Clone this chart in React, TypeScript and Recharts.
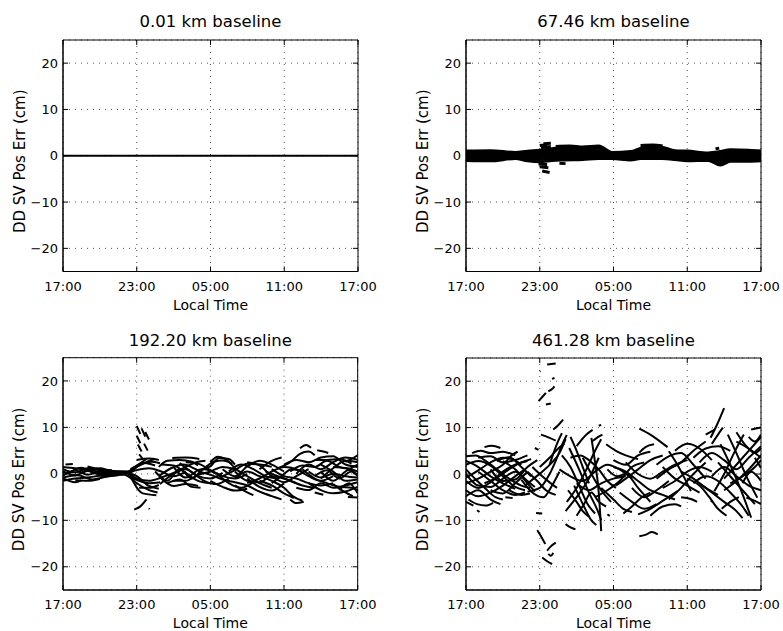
import React from 'react';
import { CartesianGrid, Line, LineChart, ReferenceArea, XAxis, YAxis } from 'recharts';

// hours after 17:00 local time
const timeTicks = [0, 6, 12, 18, 24];
const timeLabels = ['17:00', '23:00', '05:00', '11:00', '17:00'];
const errTicks = [-20, -10, 0, 10, 20];
const titles = ['0.01 km baseline', '67.46 km baseline', '192.20 km baseline', '461.28 km baseline'];

// each track: [hour, error cm] pairs
const tracks001 = [[[0, 0], [24, 0]]];

const tracks067 = [
  [[0, 1.0], [2, 1.1], [4, 0.7], [5, 1.0], [6, 1.2], [7, 1.5], [8, 1.9], [9.5, 1.9], [10.8, 2.1], [11.9, 0.7], [13.4, 0.9], [14.2, 1.6], [15, 2.0], [16, 1.8], [17, 1.1], [18, 1.0], [19.7, 0.6], [20.7, 0.9], [21.5, 1.3], [23, 1.2], [24, 1.0]],
  [[0, 0.7], [2, 0.6], [4, 0.4], [5, 0.6], [6, 0.8], [7, 1.1], [8, 1.4], [9.5, 1.4], [10.8, 1.6], [11.9, 0.4], [13.4, 0.5], [14.2, 1.1], [15, 1.4], [16, 1.3], [17, 0.8], [18, 0.6], [19.7, 0.3], [20.7, 0.4], [21.5, 0.9], [23, 0.8], [24, 0.6]],
  [[0, 0.3], [2, 0.2], [4, 0.2], [5, 0.2], [6, 0.4], [7, 0.6], [8, 0.9], [9.5, 1.0], [10.8, 1.0], [11.9, 0.1], [13.4, 0.2], [14.2, 0.6], [15, 0.9], [16, 0.8], [17, 0.4], [18, 0.2], [19.7, 0], [20.7, -0.1], [21.5, 0.5], [23, 0.4], [24, 0.2]],
  [[0, -0.1], [2, -0.2], [4, 0], [5, -0.2], [6, 0], [7, 0.2], [8, 0.5], [9.5, 0.5], [10.8, 0.6], [11.9, -0.1], [13.4, -0.1], [14.2, 0.2], [15, 0.5], [16, 0.4], [17, 0], [18, -0.2], [19.7, -0.3], [20.7, -0.6], [21.5, 0], [23, 0], [24, -0.2]],
  [[0, -0.4], [2, -0.5], [4, -0.2], [5, -0.5], [6, -0.4], [7, -0.2], [8, 0.1], [9.5, 0.1], [10.8, 0.2], [11.9, -0.3], [13.4, -0.4], [14.2, -0.1], [15, 0.1], [16, 0.1], [17, -0.3], [18, -0.5], [19.7, -0.6], [20.7, -1.1], [21.5, -0.4], [23, -0.4], [24, -0.5]],
  [[0, -0.7], [2, -0.8], [4, -0.4], [5, -0.8], [6, -0.9], [7, -0.6], [8, -0.4], [9.5, -0.4], [10.8, -0.2], [11.9, -0.5], [13.4, -0.7], [14.2, -0.4], [15, -0.3], [16, -0.3], [17, -0.6], [18, -0.8], [19.7, -0.8], [20.7, -1.6], [21.5, -0.8], [23, -0.8], [24, -0.8]],
  [[0, -1.0], [2, -1.1], [4, -0.6], [5, -1.1], [6, -1.3], [7, -1.0], [8, -0.9], [9.5, -0.8], [10.8, -0.6], [11.9, -0.6], [13.4, -0.9], [14.2, -0.6], [16, -0.6], [17, -0.8], [18, -1.1], [19.7, -1.0], [20.7, -2.0], [21.5, -1.2], [23, -1.2], [24, -1.1]],
  [[6.0, 2.2], [6.6, 2.4]],
  [[6.1, 1.8], [6.9, 2.0]],
  [[6.3, 2.6], [6.9, 2.7]],
  [[5.9, -1.8], [6.6, -1.9]],
  [[6.0, -2.4], [6.7, -2.6]],
  [[6.2, -3.3], [6.8, -3.6]],
  [[7.6, -1.6], [8.1, -1.7]],
  [[7.3, 2.0], [8.4, 2.1], [9.2, 1.9]],
  [[14.2, 2.2], [15.2, 2.3], [16.0, 2.1]],
  [[20.3, 1.5], [20.6, 1.6]],
];

const tracks192 = [
  [[0, 1.5], [1, 1.2], [2, 0.8], [3, 0.5], [4, 0.3], [5, 0.2], [6, 1.5], [7, 2.8], [7.5, 3.2]],
  [[0, -1.5], [1, -1.0], [2, -0.8], [3, -0.4], [4, -0.2], [5, -0.2], [6, -2], [7, -3.5], [7.7, -4]],
  [[0, 0.5], [1, -0.3], [2, 0.6], [3, 0], [4, 0.2], [5, 0], [6, 0.8], [7, 1.2], [8, 0.5], [9, -0.5], [10, 0.5]],
  [[0, -0.4], [1, 0.7], [2, -0.2], [3, 0.4], [4, -0.3], [5, 0.3], [6, -1], [7, -1.5], [8, -0.8], [9, 0.2], [10, 1.5], [11, 2.6], [11.6, 2.8]],
  [[0.2, 2.0], [0.8, 2.1]],
  [[0, -1.0], [1, -1.8], [1.5, -1.4]],
  [[1.5, 0.3], [3, 1.2], [4, 0.6], [5.5, 0.5], [6.5, 2.4], [7.5, 1.8]],
  [[5, 0.4], [6, -0.5], [7, -2.6], [7.8, -3.2]],
  [[5.5, -0.6], [6.5, -4.2], [7.6, -4.6]],
  [[6, 3.0], [7, 3.3], [7.8, 3.0]],
  [[7.8, 1.5], [8.5, 2.8], [9.5, 3.0], [10.5, 2.6], [11, 1.8]],
  [[8, -1], [9, -2.6], [10, -2.2], [11, -2.6]],
  [[7.9, -2.2], [9, 0], [10, 1.0], [11, -0.5], [12, -1.0], [13, 0.2]],
  [[8.9, 3.4], [10, 3.5], [11.1, 3.2]],
  [[9, 1.5], [10, -0.8], [11, 0.8], [12, 1.6], [12.7, 3.4], [13.5, 3.2], [14, 2.0]],
  [[11, 0.5], [12, -0.2], [13, -1.2], [14, -1.8], [15, -2.5], [16, -3.8], [17, -4.8], [17.8, -5.5]],
  [[12, 2.5], [12.6, 3.7], [13.2, 3.2], [14.2, 0.8], [15, -0.5], [16, -2.0], [17, -3.0]],
  [[13, 1.0], [14, -0.5], [15, 1.6], [16, 2.8], [17, 2.0], [18, 0.5]],
  [[14, -1], [15, 0.5], [16, -0.5], [17, -1.5], [18, -3.0], [18.7, -4.8], [19.5, -5.8]],
  [[15, -2.0], [16, -1.0], [17, 0.5], [18, 1.5], [19, 1.0], [20, -0.5], [21, -1.5], [22, -0.5]],
  [[17.5, 1.2], [18.5, 2.5], [19.3, 4.3], [20, 4.8], [20.5, 4.0]],
  [[18.5, -5.5], [19.0, -6.3], [19.6, -6.0]],
  [[19.3, 5.5], [19.8, 6.2], [20.2, 5.6]],
  [[20.7, 5.1], [21.2, 4.8], [21.6, 4.5]],
  [[19, 0], [20, 2.0], [21, 1.0], [22, 2.5], [23, 3.5], [24, 3.0]],
  [[20, -2], [21, -3.5], [22, -4.2], [23, -3.8], [24, -2.8]],
  [[20.5, -0.5], [21.5, 0.8], [22.5, -1.0], [23.5, 0.5], [24, -0.5]],
  [[21, 2.0], [22, 0.5], [23, -1.5], [24, -1.2]],
  [[22, -2.2], [23, -4.0], [23.6, -4.8]],
  [[23.2, -5.0], [24, -5.1]],
  [[23, 2.6], [23.5, 3.2], [24, 4.0]],
  [[12.5, 0.2], [13.5, -2.0], [14.5, -3.0], [15.5, -1.8]],
  [[16, 1.0], [17, 2.8], [17.8, 3.5]],
  [[3, -0.8], [4, -0.4], [5, 0.0], [6, 1.8], [6.8, 3.2]],
  [[0, 1.0], [1, 0.3], [2, 1.2], [3, 0.8], [4, 0.5]],
  [[0, -0.8], [1.2, -0.3], [2.4, -1.2], [3.5, -0.6], [4.5, -0.3]],
  [[0.5, 0.2], [1.5, 1.3], [2.5, 0.2], [3.5, -0.2], [4.5, 0.4]],
  [[1, -1.4], [2, -1.5], [3, -1.1]],
  [[2, 1.6], [3, 1.0], [4, 0.8]],
  [[5.5, 1.0], [6.3, 2.0], [7.2, 2.6], [7.9, 2.3]],
  [[5.2, -0.3], [6, -1.3], [7, -2.0], [7.9, -1.8]],
  [[6.2, -3.0], [7, -3.0], [7.8, -2.4]],
  [[7.8, -0.5], [8.8, 1.2], [9.8, 2.0], [10.8, 1.0], [11.5, 0]],
  [[8.5, -2.0], [9.5, -1.2], [10.5, -2.8], [11.2, -3.0]],
  [[9.5, 2.3], [10.5, 0.3], [11.5, -1.5], [12.5, -2.2], [13.5, -1.0]],
  [[11.5, 1.2], [12.3, 2.6], [13, 2.9], [13.8, 2.2]],
  [[13.5, 0.5], [14.5, 2.0], [15.5, 1.0], [16.5, -0.5], [17.5, -1.0]],
  [[14, -2.5], [15, -4.0], [15.5, -4.6]],
  [[15, -1.0], [16, -2.8], [17, -3.6], [18, -2.0]],
  [[16.5, 0.5], [17.5, -0.5], [18.5, -1.5], [19.5, -2.5], [20.5, -3.0]],
  [[18, 2.0], [19, 3.0], [20, 2.5], [21, 3.5], [22, 3.8], [23, 2.0], [24, 1.5]],
  [[19.5, 1.0], [20.5, -1.0], [21.5, -2.0], [22.5, -2.8], [23.5, -3.0], [24, -3.5]],
  [[21, 0.5], [22, -1.5], [23, 0.5], [24, 2.0]],
  [[22, 1.5], [23, 1.2], [24, -0.2]],
  [[20.5, -4.0], [21.2, -4.5]],
  [[17, -2.0], [17.8, -0.5], [18.6, 1.0], [19.5, 0.5]],
  [[7.5, 0.5], [8.5, -1.5], [9.5, 1.0], [10.5, -1.0], [11.5, 1.0], [12.5, 0]],
  [[8, 2.0], [9, 1.8], [10, 0.2], [11, -1.5], [12, -2.0]],
  [[9, -1.5], [10, -1.5], [11, -0.2], [12, 0.5], [13, 1.5], [14, 1.0]],
  [[10, 2.5], [11, 2.2], [12, 0.8], [13, -0.5], [14, -1.0], [15, 0]],
  [[12, -1.5], [13, -2.8], [14, -3.6], [15, -3.2]],
  [[14, 0.5], [15, -1.5], [16, -1.8], [17, -0.5], [18, -1.0], [19, -2.0]],
  [[15, 2.5], [16, 1.8], [17, -0.5], [18, -1.8], [19, -0.5], [20, 1.0]],
  [[17, 1.0], [18, -0.5], [19, -1.0], [20, -2.0], [21, -2.5], [22, -2.0]],
  [[18.5, 0.5], [19.5, 1.8], [20.5, 1.5], [21.5, 2.8], [22.5, 1.5], [23.5, 1.0], [24, 0.5]],
  [[19, -3.0], [20, -3.5], [21, -2.0], [22, -3.0], [23, -2.5], [24, -1.8]],
  [[20, 0.5], [21, -0.8], [22, 0], [23, -0.5], [24, -0.8]],
  [[21, -1.0], [22, 1.2], [23, 2.8], [24, 2.5]],
  [[22.5, -3.5], [23.3, -2.0], [24, -4.2]],
  [[13, -0.5], [14, 0.8], [15, 2.2], [16, 2.0], [17, 1.5]],
  [[16, -1.5], [17, -2.5], [18, -4.2], [18.8, -5.2]],
  [[20.5, 3.0], [21.5, 3.0], [22.5, 3.2], [23.5, 2.2]],
  [[6.0, 10.3], [6.3, 8.6]],
  [[6.4, 9.8], [6.7, 8.0]],
  [[6.0, 8.2], [6.3, 6.6]],
  [[6.7, 9.0], [7.0, 7.4]],
  [[6.1, 6.3], [6.4, 4.8]],
  [[6.6, 6.5], [6.9, 5.0]],
  [[6.2, 4.2], [6.45, 3.4]],
  [[5.8, -7.7], [6.3, -7.0], [6.8, -5.5]],
  [[7.0, -7.4], [7.05, -7.6]],
];

const tracks461 = [
  [[0, 3.8], [0.8, 4.0], [1.5, 3.0], [2.5, 1.0], [3.5, -1.0], [4.5, -2.5], [5.2, -3.0]],
  [[0, -0.8], [1, 0.8], [2, 2.5], [3, 3.5], [3.8, 3.2], [4.5, 2.0]],
  [[0, -3.5], [1, -4.8], [2, -4.0], [3, -2.5], [4, -0.5], [4.8, 1.0]],
  [[0, 1.0], [0.8, -1.2], [1.6, -3.2], [2.4, -5.0], [3.0, -5.5]],
  [[0, -2.0], [1, -1.0], [2, 0.5], [3, 2.0], [3.8, 4.2], [4.2, 4.8]],
  [[1.5, 5.8], [2.1, 6.1], [2.8, 5.6]],
  [[0.2, -5.5], [0.9, -6.5], [1.6, -6.8], [2.2, -6.2]],
  [[0.9, -7.8], [1.1, -8.2]],
  [[1.5, -2.0], [2.5, -0.8], [3.5, 1.0], [4.5, 2.5], [5.3, 3.2]],
  [[2.5, 2.8], [3.5, 3.6], [4.5, 1.5], [5.3, -0.5]],
  [[0, 2.0], [1, 2.8], [2, 1.8], [3, -0.5], [4, -2.8], [4.8, -3.5]],
  [[3.2, -5.0], [3.8, -5.2]],
  [[0, 0], [1, -2.5], [2, -2.8], [3, -1.0], [4, 0.5], [5, -1.5], [5.6, -2.8]],
  [[0, 2.8], [1, 1.5], [2, -0.5], [3, -2.0], [4, -3.2]],
  [[0, -1.5], [1, -3.0], [2, -1.8], [3, 0.5], [4, 2.0], [5, 2.8]],
  [[0.5, 4.5], [1.2, 5.0], [2.0, 4.5], [3.0, 4.8], [4.0, 4.0]],
  [[1, 3.5], [2, 3.8], [3, 2.5], [4, 3.0], [5, 4.0]],
  [[2, -3.5], [3, -4.2], [4, -2.0], [5, 0.5]],
  [[0, -4.8], [1, -3.5], [2, -5.5], [2.8, -6.5]],
  [[3.5, -3.5], [4.5, -4.5], [5.2, -4.2]],
  [[1, 0.5], [2, -1.5], [3, -3.5], [4, -4.5], [4.8, -4.0]],
  [[2, 1.0], [3, -1.5], [4, -1.2], [5, 1.5], [5.8, 3.0]],
  [[3, 2.8], [4, 1.0], [5, -2.0], [5.6, -3.8]],
  [[0, -6.0], [0.6, -6.8]],
  [[4.8, -2.5], [5.5, -1.0], [6.2, 0.5], [7.0, 2.5], [7.6, 4.5], [8.1, 7.5]],
  [[5.0, -3.8], [6.0, -3.0], [6.8, 0.0], [7.4, 3.5], [7.8, 6.2], [8.2, 8.4]],
  [[5.4, 1.5], [6.2, -0.5], [6.8, -1.8], [7.4, -3.0]],
  [[5, 0.5], [5.8, -1.5], [6.5, -3.5], [7.3, -4.5]],
  [[6, 1.5], [6.8, 3.5], [7.5, 5.5], [8.0, 6.5]],
  [[6.8, 2.0], [7.4, 6.5], [7.8, 8.8]],
  [[5.6, 5.6], [5.9, 5.2]],
  [[6.1, 8.5], [6.8, 7.8], [7.3, 7.2]],
  [[7.1, 9.6], [7.5, 10.5], [7.9, 11.7]],
  [[4.5, -1.2], [5.5, -4.2], [6.3, -5.0], [7, -2.5], [7.6, 0.5]],
  [[5.9, 15.7], [6.2, 16.6], [6.5, 17.5]],
  [[6.7, 17.8], [7.0, 18.3], [7.2, 18.9]],
  [[6.5, 15.0], [6.9, 15.2]],
  [[6.6, 23.6], [7.3, 23.8]],
  [[6.0, 22.1], [6.05, 22.2]],
  [[7.0, 20.5], [7.2, 20.7]],
  [[5.7, -8.4], [6.2, -8.5]],
  [[5.8, -12.1], [6.1, -13.4], [6.45, -15.1]],
  [[6.2, -18.0], [6.6, -18.8], [7.0, -19.4]],
  [[6.6, -16.5], [6.9, -15.6], [7.3, -14.8]],
  [[6.7, -17.2], [6.9, -17.6], [7.1, -17.0]],
  [[8.4, 5.6], [9.2, 1.0], [10.0, -4.0], [10.8, -8.5], [11.0, -10.0]],
  [[10.2, 7.8], [10.5, 2.5], [10.8, -4.0], [11.0, -12.3]],
  [[8.1, -10.8], [8.5, -11.5], [8.9, -11.9]],
  [[8.1, -8.0], [9.0, -5.0], [10.0, -1.0], [10.8, 3.5]],
  [[8.3, -3.5], [9.0, -6.0], [9.5, -8.0], [10.0, -9.2]],
  [[8.5, 3.5], [9.3, 4.0], [10.0, 3.0], [10.8, 1.0], [11.5, -1.5], [12.2, -3.0]],
  [[9.0, -2.0], [10.0, -3.5], [11.0, -2.0], [12.0, -1.0], [13.0, -0.5]],
  [[8.5, 8.0], [9.0, 5.0], [9.5, 1.5], [10.0, -2.0]],
  [[9, 6.0], [9.8, 8.5], [10.3, 9.5]],
  [[9.0, -9.0], [9.6, -6.5], [10.2, -4.0], [10.8, -6.0], [11.4, -7.0]],
  [[7.8, 4.0], [8.5, 1.5], [9.2, -2.5], [9.9, -6.5], [10.5, -8.5]],
  [[8.2, -6.0], [9.0, -3.0], [9.8, 1.0], [10.5, 5.0], [11.0, 7.5]],
  [[9.5, 3.5], [10.2, 0.0], [11.0, -3.5], [11.8, -6.0]],
  [[10.3, 7.1], [10.7, 7.9], [11.1, 8.5]],
  [[11.4, 6.4], [12.2, 5.0], [13.0, 4.0], [14.0, 3.2]],
  [[11.5, -8.7], [11.7, -9.0]],
  [[7.6, 1.0], [8.5, -0.5], [9.5, -1.5], [10.5, 0.5], [11.5, 2.0], [12.5, 1.0], [13.5, -1.0]],
  [[10.8, 10.4], [11.0, 10.6]],
  [[8.8, -2.5], [9.6, -7.0], [10.2, -10.0], [10.6, -11.0]],
  [[10.5, -5.0], [11.5, -3.5], [12.5, -1.5], [13.5, 1.5], [14.5, 2.5]],
  [[11.5, 1.0], [12.3, -0.5], [13.0, 0.0], [14.0, -3.0], [15.0, -6.0]],
  [[11.0, -3.0], [12.0, -5.5], [12.8, -7.5], [13.5, -8.2]],
  [[12.8, -8.5], [13.5, -7.0], [14.3, -5.0], [15.0, -4.0]],
  [[12.0, 3.0], [13.0, 2.0], [14.0, 4.0], [15.0, 4.8]],
  [[12, 1.5], [13, 0.5], [14, -1.5], [15, -3.5], [16, -4.5], [17, -5.5]],
  [[14.1, 9.8], [15, 8.5], [15.7, 7.2], [16.4, 5.8]],
  [[14.1, 4.6], [14.6, 5.8], [15.3, 6.4]],
  [[14.0, -8.7], [15.0, -7.5], [16.0, -5.8], [17.2, -3.7]],
  [[14.1, -13.4], [14.7, -13.0], [15.1, -12.5], [15.6, -13.0]],
  [[12.5, -4.0], [13.5, -6.0], [14.5, -7.5], [15.5, -6.5]],
  [[13.5, -3.0], [14.5, -5.0], [15.5, -3.5], [16.5, -1.5]],
  [[15, -9.0], [16, -7.0], [17, -6.5], [17.5, -7.0]],
  [[13, 2.5], [14, 0], [15, -1.0], [16, 0.5], [17, 2.0], [18, 3.0]],
  [[16.5, 4.9], [17.2, 2.0], [17.8, -1.0], [18.3, -3.7]],
  [[16, -3.0], [17, -1.5], [18, 0.5], [19, 1.5], [20, 0.5]],
  [[16, 1.5], [17, -1.0], [18, -2.5], [19, -4.0]],
  [[17, 5.0], [18, 6.5], [19, 5.5], [20, 3.0]],
  [[17.5, -5.0], [18.3, -5.4], [18.8, -6.0]],
  [[15.5, 2.0], [16.5, 3.8], [17.5, 4.5], [18.5, 2.0], [19.5, -1.0]],
  [[15.5, -1.0], [16.5, 1.0], [17.5, 2.5], [18.5, 5.0], [19.5, 7.0]],
  [[16.5, -5.5], [17.5, -3.0], [18.5, 0.0], [19.5, 2.5]],
  [[18.5, 3.5], [19.5, 5.5], [20.5, 6.0], [21.5, 5.0]],
  [[19.9, 7.8], [20.4, 10.5], [21.0, 14.2]],
  [[20.0, 6.5], [20.5, 8.5], [20.9, 10.0]],
  [[19.5, 8.5], [20.2, 9.5]],
  [[19.9, -5.8], [20.1, -6.0]],
  [[20.7, 6.4], [21.5, 2.0], [22.3, -3.0], [23.2, -9.4]],
  [[21.3, 8.5], [22.0, 4.5], [22.9, -1.0], [23.7, -5.1]],
  [[20.2, -3.7], [21.0, 0.0], [21.8, 4.5], [22.6, 8.5]],
  [[19, -2.0], [20, -4.0], [21, -6.0], [22, -8.0], [22.5, -9.5]],
  [[18.0, -1.0], [19.0, -2.5], [19.8, -5.0], [20.5, -7.5], [21.2, -9.0]],
  [[20.8, -7.5], [21.5, -6.0], [22.2, -5.0]],
  [[21, -1.0], [22, 2.0], [23, 5.0], [24, 8.0]],
  [[21.0, -3.5], [22.0, -1.5], [23.0, 1.0], [24, 4.0]],
  [[20.5, 2.5], [21.5, -0.5], [22.5, -3.5], [23.5, -6.5]],
  [[22.5, -2.0], [23.2, 0.5], [24, -1.5]],
  [[20, -0.5], [21, 1.5], [22, -0.5], [23, -2.5], [24, -3.5]],
  [[23.2, 9.6], [24, 10.0]],
  [[23.0, 8.0], [23.5, 7.0], [24, 8.5]],
  [[22.0, 9.0], [22.8, 6.0], [23.5, 4.5], [24, 5.5]],
  [[23.5, 3.5], [24, 1.3]],
  [[22.8, -5.1], [23.5, -5.8], [24, -6.5]],
  [[18.5, -2.0], [19.5, -0.5], [20.5, -1.5], [21.5, -4.0], [22.5, -7.0], [23.0, -9.0]],
  [[19, 2.5], [20, 4.5], [21, 3.0], [22, 1.0], [23, 3.5], [24, 6.0]],
  [[21.5, -2.0], [22.5, -0.5], [23.5, 1.5], [24, 3.0]],
  [[22, 7.0], [23, 5.5], [24, 3.5]],
  [[12.2, -2.5], [13.0, -1.0], [14.0, 1.0], [15.0, 3.0], [16.0, 4.0]],
  [[17.5, 0.5], [18.5, -1.0], [19.5, -3.0], [20.5, -4.5]],
];

// bottom ticks: label plus the inward marks on the bottom and top edges
const BottomTick = (props: any) => {
  const { x, y, payload, plotH } = props;
  const i = timeTicks.indexOf(payload.value);
  const axisY = y - 10;
  return (
    <g>
      <line x1={x} x2={x} y1={axisY} y2={axisY - 5} stroke="#000" />
      <line x1={x} x2={x} y1={axisY - plotH} y2={axisY - plotH + 5} stroke="#000" />
      <text x={x} y={y} dy="0.71em" textAnchor="middle" fontSize={13} fill="#000">
        {timeLabels[i]}
      </text>
    </g>
  );
};

const LeftTick = (props: any) => {
  const { x, y, payload, plotW } = props;
  const v = payload.value;
  const axisX = x + 5;
  return (
    <g>
      <line x1={axisX} x2={axisX + 5} y1={y} y2={y} stroke="#000" />
      <line x1={axisX + plotW} x2={axisX + plotW - 5} y1={y} y2={y} stroke="#000" />
      <text x={x} y={y} dy="0.355em" textAnchor="end" fontSize={13} fill="#000">
        {v < 0 ? '\u2212' + Math.abs(v) : String(v)}
      </text>
    </g>
  );
};

type Box = { l: number; t: number; r: number; b: number };

const Panel = ({ title, tracks, width, height, box, lineWidth, titleGap }: {
  title: string; tracks: number[][][]; width: number; height: number; box: Box; lineWidth: number; titleGap: number;
}) => {
  const margin = { top: box.t, left: box.l - 50, right: width - box.r, bottom: height - box.b - 40 };
  const plotW = box.r - box.l;
  const plotH = box.b - box.t;
  const lx = box.l - 38.5;
  const ly = (box.t + box.b) / 2 + 5.5;
  const yLabel = () => (
    <text x={lx} y={ly} transform={`rotate(-90 ${lx} ${ly})`} textAnchor="middle" fontSize={15} fill="#000">
      DD SV Pos Err (cm)
    </text>
  );
  return (
    <LineChart width={width} height={height} margin={margin}>
      <CartesianGrid xAxisId="b" yAxisId="l" stroke="#555" strokeDasharray="1 5" />
      <XAxis xAxisId="b" dataKey="t" type="number" domain={[0, 24]} ticks={timeTicks} interval={0}
        allowDataOverflow height={40} tickSize={4} tickMargin={6} tickLine={false}
        axisLine={{ stroke: '#000' }} tick={(p: any) => <BottomTick {...p} plotH={plotH} />}
        label={{ value: 'Local Time', position: 'insideBottom', offset: 2, fontSize: 14, fill: '#000' }} />
      <YAxis yAxisId="l" type="number" domain={[-25, 25]} ticks={errTicks} interval={0}
        allowDataOverflow width={50} tickSize={2} tickMargin={3} tickLine={false}
        axisLine={{ stroke: '#000' }} tick={(p: any) => <LeftTick {...p} plotW={plotW} />} label={yLabel} />
      <ReferenceArea xAxisId="b" yAxisId="l" x1={0} x2={24} y1={-25} y2={25} fill="none" fillOpacity={0}
        stroke="#000" strokeWidth={1}
        label={{ value: title, position: 'top', offset: titleGap, fontSize: 16.5, fill: '#000' }} />
      {tracks.map((tr, i) => (
        <Line key={i} xAxisId="b" yAxisId="l" data={tr.map(([t, v]) => ({ t, v }))} dataKey="v"
          type="monotone" stroke="#000" strokeWidth={lineWidth} dot={false} activeDot={false}
          isAnimationActive={false} />
      ))}
    </LineChart>
  );
};

const App = () => {
  return (
    <div style={{ position: 'absolute', left: 0, top: 0, width: 783, height: 631, background: '#fff', fontFamily: '"DejaVu Sans", sans-serif' }}>
      <div style={{ position: 'absolute', left: 0, top: 0 }}>
        <Panel title={titles[0]} tracks={tracks001} width={400} height={320}
          box={{ l: 63, t: 40, r: 358, b: 271.5 }} lineWidth={2.2} titleGap={13} />
      </div>
      <div style={{ position: 'absolute', left: 400, top: 0 }}>
        <Panel title={titles[1]} tracks={tracks067} width={383} height={320}
          box={{ l: 66, t: 40, r: 361, b: 271.5 }} lineWidth={3} titleGap={13} />
      </div>
      <div style={{ position: 'absolute', left: 0, top: 320 }}>
        <Panel title={titles[2]} tracks={tracks192} width={400} height={311}
          box={{ l: 63, t: 37.7, r: 357.7, b: 270 }} lineWidth={2} titleGap={12} />
      </div>
      <div style={{ position: 'absolute', left: 400, top: 320 }}>
        <Panel title={titles[3]} tracks={tracks461} width={383} height={311}
          box={{ l: 66, t: 38, r: 361, b: 270 }} lineWidth={2} titleGap={12} />
      </div>
    </div>
  );
};

export default App;
